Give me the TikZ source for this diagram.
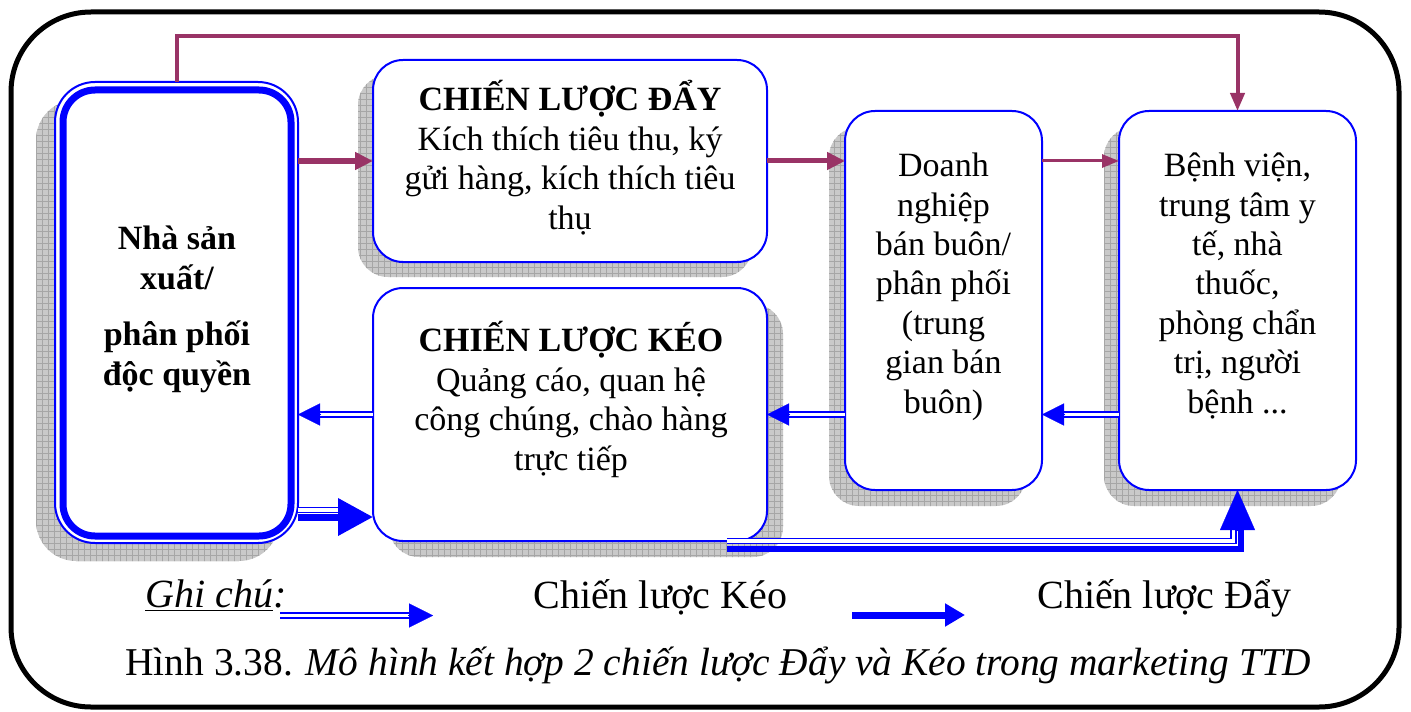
\documentclass[tikz,border=0pt]{standalone}
\usepackage{fontspec}
\setmainfont{Liberation Serif}
\usetikzlibrary{arrows.meta,calc,patterns}
\definecolor{pushc}{HTML}{993366}
\definecolor{boxblue}{HTML}{0000FF}
\pgfdeclarelayer{bg}
\pgfsetlayers{bg,main}
\lineskiplimit=-50pt
\begin{document}
\begin{tikzpicture}[x=0.5pt,y=-0.5pt,
  box/.style={draw=boxblue, line width=1pt, fill=white, rounded corners=15pt, inner sep=0pt, outer sep=0pt},
  shadowbox/.style={fill=gray!42, rounded corners=15pt, postaction={pattern=grid, pattern color=gray!70}},
  txt/.style={align=center, font=\fontsize{17}{19.7}\selectfont, inner sep=0pt, anchor=base},
  legtxt/.style={font=\fontsize{20}{24}\selectfont, inner sep=0pt, anchor=base west},
  push/.style={draw=pushc, line width=3pt, -{Triangle[length=9pt,width=8.5pt]}},
  pushb/.style={draw=boxblue, line width=3.5pt},
  pull/.style={draw=boxblue, line width=0.8pt, double=white, double distance=1.75pt},
  pulltip/.style={draw=boxblue, fill=boxblue, line width=0.1pt, -{Triangle[length=11pt,width=11pt]}}
]
\useasboundingbox (0,0) rectangle (1411,711);
% outer frame
\draw[line width=2.5pt, rounded corners=40pt] (11,12) rectangle (1399,707);

% boxes
\node[box, rounded corners=20pt, minimum width=121.5pt, minimum height=230.5pt] (nsx) at (176.5,312.5) {};
\draw[boxblue, line width=3.5pt, rounded corners=16pt] ($(nsx.north west)+(8,8)$) rectangle ($(nsx.south east)+(-7,-7)$);
\node[box, minimum width=197pt, minimum height=101pt] (day) at (570,161) {};
\node[box, minimum width=197pt, minimum height=126.5pt] (keo) at (570,414.5) {};
\node[box, minimum width=98.5pt, minimum height=189.5pt] (doanh) at (943.5,300.5) {};
\node[box, minimum width=118.5pt, minimum height=189.5pt] (benh) at (1237.5,300.5) {};

% shadows
\begin{pgfonlayer}{bg}
\path[shadowbox, rounded corners=20pt] ($(nsx.north west)+(-19,18)$) rectangle ($(nsx.south east)+(-19,18)$);
\path[shadowbox] ($(day.north west)+(-15,15)$) rectangle ($(day.south east)+(-15,15)$);
\path[shadowbox] ($(keo.north west)+(16,16)$) rectangle ($(keo.south east)+(16,16)$);
\path[shadowbox] ($(doanh.north west)+(-16,16)$) rectangle ($(doanh.south east)+(-16,16)$);
\path[shadowbox] ($(benh.north west)+(-15,16)$) rectangle ($(benh.south east)+(-15,16)$);
\end{pgfonlayer}

% texts (anchor = baseline of last line)
\node[txt, font=\fontsize{17}{19.7}\selectfont\bfseries] (tnsx) at (177,385) {Nhà sản\\xuất/\\[8.5pt]phân phối\\độc quyền};
\node[txt] (tday) at (570,229) {\textbf{CHIẾN LƯỢC ĐẨY}\\Kích thích tiêu thu, ký\\gửi hàng, kích thích tiêu\\thụ};
\node[txt] (tkeo) at (571,470) {\textbf{CHIẾN LƯỢC KÉO}\\Quảng cáo, quan hệ\\công chúng, chào hàng\\trực tiếp};
\node[txt] (tdoanh) at (943.5,413) {Doanh\\nghiệp\\bán buôn/\\phân phối\\(trung\\gian bán\\buôn)};
\node[txt] (tbenh) at (1237.5,413) {Bệnh viện,\\trung tâm y\\tế, nhà\\thuốc,\\phòng chẩn\\trị, người\\bệnh ...};

% push arrows (purple)
\draw[push, line width=2pt, -{Triangle[length=9pt,width=7pt]}] (nsx.north) -- ++(0,-46) -| (benh.north);
\draw[push] (nsx.east |- day.west) -- (day.west);
\draw[push, line width=2.5pt] (day.east) -- (doanh.west |- day.east);
\draw[push, line width=1.5pt, -{Triangle[length=8.5pt,width=6.5pt]}] (doanh.east |- day.east) -- (benh.west |- day.east);

% pull arrows (double blue)
\draw[pull, shorten >=10pt] (benh.west |- keo.west) -- (doanh.east |- keo.west);
\draw[pulltip] ($(doanh.east |- keo.west)+(23,0)$) -- (doanh.east |- keo.west);
\draw[pull, shorten >=10pt] (doanh.west |- keo.west) -- (keo.east);
\draw[pulltip] ($(keo.east)+(23,0)$) -- (keo.east);
\draw[pull, shorten >=10pt] (keo.west) -- (nsx.east |- keo.west);
\draw[pulltip] ($(nsx.east |- keo.west)+(23,0)$) -- (nsx.east |- keo.west);

% combined arrow nsx -> keo
\draw[pull] (nsx.east |- 0,510) -- (345,510);
\draw[pushb, -{Triangle[length=17.5pt,width=18pt]}] (nsx.east |- 0,517) -- (keo.west |- 0,517);

% combined arrow keo -> benh
\coordinate (b0) at ($(keo.south east)+(-40,0)$);
\draw[pull] (b0) -| ($(benh.south)+(-4,40)$);
\draw[pushb, line width=3pt] ($(b0)+(0,8)$) -| ($(benh.south)+(3.5,40)$);
\draw[draw=boxblue, fill=boxblue, line width=0.1pt, -{Triangle[length=20pt,width=17.5pt]}] ($(benh.south)+(0,41)$) -- (benh.south);

% legend
\node[legtxt, font=\fontsize{20}{24}\selectfont\itshape] (ghichu) at (145,607) {\underline{Ghi chú}:};
\coordinate (lk0) at (280,615.5);
\coordinate (lk1) at (433,615.5);
\draw[pull, shorten >=10pt] (lk0) -- (lk1);
\draw[pulltip, -{Triangle[length=12pt,width=12pt]}] ($(lk1)+(-25,0)$) -- (lk1);
\node[legtxt] (lkeo) at (533,608) {Chiến lược Kéo};
\coordinate (ld0) at (852,615);
\coordinate (ld1) at (965,615);
\draw[pushb, -{Triangle[length=10pt,width=11pt]}] (ld0) -- (ld1);
\node[legtxt] (lday) at (1037,608) {Chiến lược Đẩy};
\node[legtxt, font=\fontsize{19.7}{24}\selectfont] (cap) at (125,675) {Hình 3.38. \textit{Mô hình kết hợp 2 chiến lược Đẩy và Kéo trong marketing TTD}};
\end{tikzpicture}
\end{document}
